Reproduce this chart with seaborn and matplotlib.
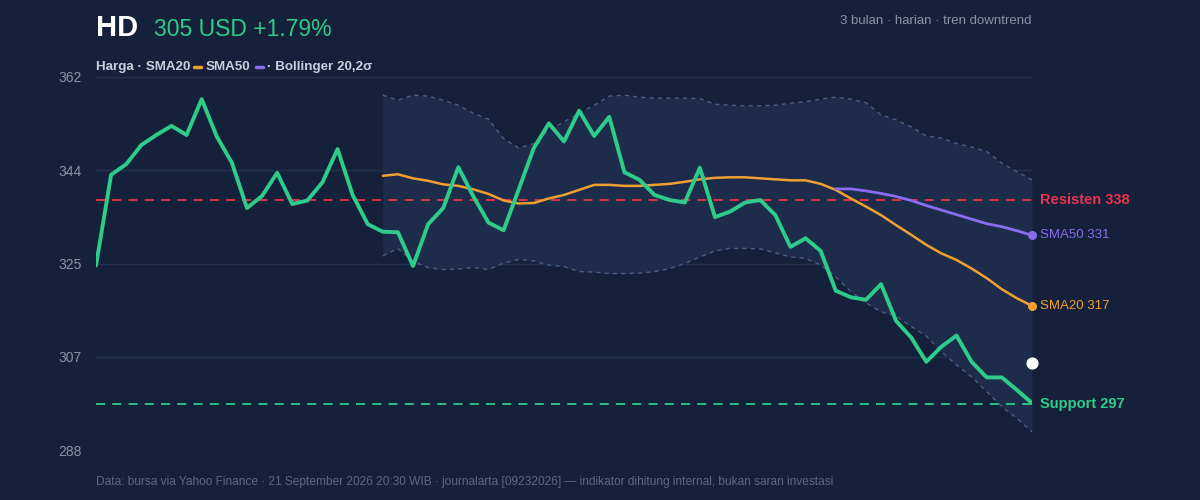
import numpy as np
import pandas as pd
import matplotlib
matplotlib.use("Agg")
import matplotlib.pyplot as plt
import seaborn as sns

price = [324.6, 342.6, 344.7, 348.5, 350.5, 352.3, 350.5, 357.6, 350.2, 345.0,
         336.0, 338.4, 343.0, 336.8, 337.5, 341.1, 347.7, 338.6, 332.8, 331.3,
         331.2, 324.5, 332.8, 336.0, 344.1, 338.3, 333.1, 331.6, 339.7, 347.9,
         352.8, 349.2, 355.3, 350.3, 354.1, 343.1, 341.6, 338.6, 337.6, 337.1,
         344.0, 334.2, 335.3, 337.1, 337.6, 334.6, 328.3, 330.0, 327.5, 319.6,
         318.3, 317.8, 320.9, 313.6, 310.3, 305.5, 308.5, 310.7, 305.5, 302.4,
         302.4, 299.9, 297.3]
sma20 = [342.4, 342.7, 341.9, 341.4, 340.7, 340.4, 339.7, 338.8, 337.5, 336.9,
         337.0, 337.9, 338.6, 339.6, 340.6, 340.6, 340.4, 340.4, 340.6, 340.8,
         341.2, 341.7, 342.0, 342.1, 342.1, 341.9, 341.7, 341.5, 341.5, 340.8,
         339.6, 337.9, 336.3, 334.6, 332.6, 330.7, 328.7, 327.0, 325.7, 324.0,
         322.1, 319.9, 318.1, 316.6]
sma50 = [339.8, 339.8, 339.4, 338.9, 338.3, 337.5, 336.5, 335.6, 334.7, 333.8,
         332.9, 332.3, 331.5, 330.6]
boll_up = [358.4, 357.4, 358.4, 358.2, 357.4, 356.4, 354.8, 353.6, 349.8, 347.9,
           348.8, 351.5, 353.1, 354.8, 356.4, 358.2, 358.4, 358.0, 357.8, 357.8,
           357.8, 357.7, 356.6, 356.4, 356.3, 356.3, 356.4, 356.8, 357.1, 357.6,
           358.0, 357.6, 356.9, 354.5, 353.5, 352.1, 350.3, 349.9, 348.8, 348.1,
           347.2, 344.9, 343.2, 341.6]
boll_lo = [326.5, 328.0, 325.4, 324.2, 323.8, 323.9, 324.2, 323.8, 325.1, 325.8,
           325.5, 324.7, 324.4, 323.4, 323.3, 323.0, 323.0, 323.1, 323.4, 324.0,
           325.0, 326.3, 327.5, 328.0, 328.0, 327.9, 327.1, 326.3, 326.0, 324.7,
           322.4, 319.4, 317.2, 315.4, 314.6, 312.5, 310.6, 307.5, 304.9, 302.5,
           299.6, 296.6, 294.3, 291.6]
resist = 337.6
support = 297.2
last_price = 305.3
yticks = [288, 306.5, 325, 343.5, 362]
ytick_labels = ["288", "307", "325", "344", "362"]
resist_label = "Resisten 338"
support_label = "Support 297"
sma50_label = "SMA50 331"
sma20_label = "SMA20 317"

BG = "#15213a"
GRID = "#223150"
GREEN = "#2ecc8a"
ORANGE = "#f0a030"
PURPLE = "#8b6cf0"
RED = "#e8344c"
GREY = "#8a93a6"
LEG = "#c8d0e0"

sns.set_theme(style="dark")
plt.rcParams["font.family"] = ["Liberation Sans", "DejaVu Sans"]

n = len(price)
x = np.arange(n)
df = pd.DataFrame({"x": x, "price": price})
s20 = pd.DataFrame({"x": x[n - len(sma20):], "v": sma20})
s50 = pd.DataFrame({"x": x[n - len(sma50):], "v": sma50})
bx = x[n - len(boll_up):]

fig = plt.figure(figsize=(12, 5), dpi=100, facecolor=BG)
ax = fig.add_axes([0.08, 0.1, 0.78, 0.746], facecolor=BG)

ax.fill_between(bx, boll_lo, boll_up, color="#1d2c4b", lw=0, zorder=1)
ax.plot(bx, boll_up, color="#4a5d85", lw=1, ls=(0, (3, 3)), zorder=2)
ax.plot(bx, boll_lo, color="#4a5d85", lw=1, ls=(0, (3, 3)), zorder=2)
for t in yticks:
    ax.axhline(t, color=GRID, lw=1, zorder=0.5)
ax.axhline(resist, color=RED, lw=1.3, ls=(0, (5, 4)), zorder=3)
ax.axhline(support, color=GREEN, lw=1.3, ls=(0, (5, 4)), zorder=3)
sns.lineplot(data=s20, x="x", y="v", color=ORANGE, lw=1.8, ax=ax, zorder=4)
sns.lineplot(data=s50, x="x", y="v", color=PURPLE, lw=2, ax=ax, zorder=4)
sns.lineplot(data=df, x="x", y="price", color=GREEN, lw=2.8, ax=ax, zorder=5)
ax.scatter([n - 1], [sma20[-1]], color=ORANGE, s=30, zorder=6, clip_on=False)
ax.scatter([n - 1], [sma50[-1]], color=PURPLE, s=30, zorder=6, clip_on=False)
ax.scatter([n - 1], [last_price], color="white", s=60, zorder=6, clip_on=False)

ax.set_xlim(0, n - 1)
ax.set_ylim(288, 362)
ax.set_yticks(yticks)
ax.set_yticklabels(ytick_labels, color=GREY, fontsize=10)
ax.set_xticks([])
ax.set_xlabel("")
ax.set_ylabel("")
ax.tick_params(axis="y", length=0, pad=10)
ax.grid(False)
for s in ax.spines.values():
    s.set_visible(False)

ax.text(n - 1 + 0.5, resist, resist_label, color=RED, fontsize=10.5,
        fontweight="bold", va="center")
ax.text(n - 1 + 0.5, support, support_label, color=GREEN, fontsize=10.5,
        fontweight="bold", va="center")
ax.text(n - 1 + 0.5, sma50[-1], sma50_label, color=PURPLE, fontsize=9.5, va="center")
ax.text(n - 1 + 0.5, sma20[-1], sma20_label, color=ORANGE, fontsize=9.5, va="center")

fig.text(0.08, 0.944, "HD", color="white", fontsize=21, fontweight="bold", va="center")
fig.text(0.128, 0.94, "305 USD +1.79%", color=GREEN, fontsize=16.5, va="center")
fig.text(0.86, 0.958, "3 bulan · harian · tren downtrend", color=GREY, fontsize=9.5,
         ha="right", va="center")
ly = 0.866
fig.text(0.08, ly, "Harga · SMA20", color=LEG, fontsize=9.6, fontweight="bold", va="center")
fig.add_artist(plt.Line2D([0.1617, 0.1675], [ly, ly], color=ORANGE, lw=2.5))
fig.text(0.1717, ly, "SMA50", color=LEG, fontsize=9.6, fontweight="bold", va="center")
fig.add_artist(plt.Line2D([0.2133, 0.2192], [ly, ly], color=PURPLE, lw=2.5))
fig.text(0.2225, ly, "· Bollinger 20,2σ", color=LEG, fontsize=9.6, fontweight="bold", va="center")
fig.text(0.08, 0.036, "Data: bursa via Yahoo Finance · 21 September 2026 20:30 WIB · journalarta [09232026] — indikator dihitung internal, bukan saran investasi",
         color="#5d6880", fontsize=8.6, va="center")

fig.savefig("out.png", dpi=100, facecolor=BG)
